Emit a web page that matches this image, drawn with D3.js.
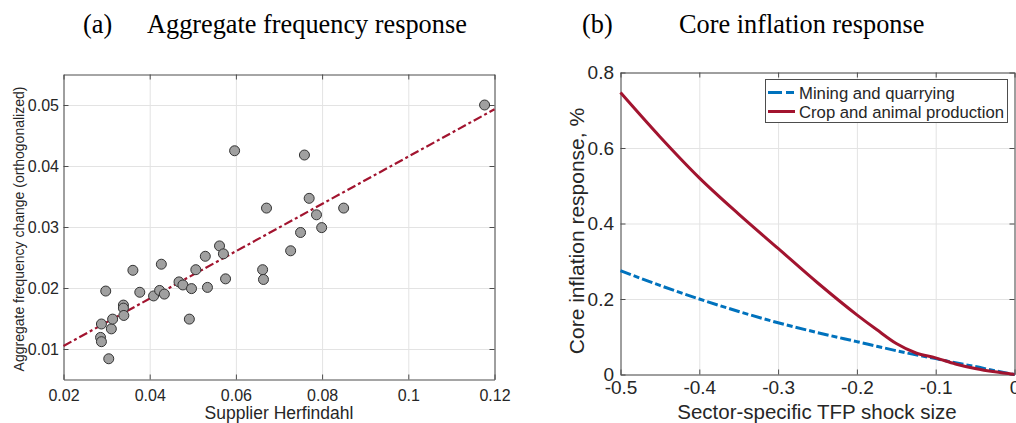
<!DOCTYPE html>
<html>
<head>
<meta charset="utf-8">
<script src="https://cdn.jsdelivr.net/npm/d3@7"></script>
<style>
  body { margin: 0; background: #fff; }
  svg { display: block; }
  .tick text { font-family: "Liberation Sans", Arial, sans-serif; fill: #262626; }
  .grid line { stroke: #e3e3e3; stroke-width: 1; }
  .grid path { display: none; }
  .axis path, .axis line { stroke: #4d4d4d; stroke-width: 1; }
  .title { font-family: "Liberation Serif", "Times New Roman", serif; font-size: 26.3px; fill: #000; }
  .label { font-family: "Liberation Sans", Arial, sans-serif; fill: #262626; }
</style>
</head>
<body>
<div id="chart"></div>
<script>
// panel (a): supplier herfindahl vs aggregate frequency change
const herfX = [0.0298, 0.0361, 0.0377, 0.0427, 0.0409, 0.0423, 0.0434, 0.0468, 0.0477, 0.0497,
               0.0492, 0.0507, 0.0529, 0.0534, 0.0562, 0.0571, 0.0576, 0.0662, 0.0664, 0.0727,
               0.0288, 0.0286, 0.0288, 0.0305, 0.0311, 0.0314, 0.0339, 0.0339, 0.0340, 0.0597,
               0.0671, 0.0759, 0.1177, 0.0770, 0.0787, 0.0850, 0.0799, 0.0750];
const freqY = [0.0195, 0.0229, 0.0193, 0.0239, 0.0187, 0.0196, 0.0190, 0.0210, 0.0205, 0.0199,
               0.0149, 0.0230, 0.0252, 0.0201, 0.0269, 0.0256, 0.0215, 0.0230, 0.0214, 0.0261,
               0.0141, 0.0119, 0.0112, 0.0084, 0.0133, 0.0149, 0.0172, 0.0167, 0.0155, 0.0425,
               0.0331, 0.0418, 0.0500, 0.0347, 0.0320, 0.0331, 0.0299, 0.0291];
const fitX = [0.02, 0.12];
const fitY = [0.0105, 0.0493];
const aXTicks = [0.02, 0.04, 0.06, 0.08, 0.1, 0.12];
const aYTicks = [0.01, 0.02, 0.03, 0.04, 0.05];

// panel (b): core inflation response to sector TFP shocks
const shockX  = [-0.5, -0.45, -0.4, -0.35, -0.3, -0.25, -0.2, -0.175, -0.15, -0.125, -0.1, -0.075, -0.05, -0.025, 0];
const miningY = [0.275, 0.236, 0.200, 0.167, 0.137, 0.111, 0.087, 0.075, 0.063, 0.052, 0.042, 0.031, 0.021, 0.010, 0];
const cropY   = [0.747, 0.630, 0.521, 0.425, 0.334, 0.243, 0.158, 0.119, 0.082, 0.057, 0.044, 0.028, 0.016, 0.007, 0];
const bXTicks = [-0.5, -0.4, -0.3, -0.2, -0.1, 0];
const bYTicks = [0, 0.2, 0.4, 0.6, 0.8];

const red = "#A2142F", blue = "#0072BD";

const svg = d3.select("#chart").append("svg")
    .attr("width", 1016)
    .attr("height", 423);

// plain hyphen minus, like matlab labels
const fmt = d => String(d);

// draws box, grid and inward ticks for a panel
function drawFrame(g, x, y, xt, yt, fs, xpad, ypad) {
    const [x0, x1] = x.range();
    const [y0, y1] = y.range();
    const w = x1 - x0, h = y0 - y1;

    g.append("g").attr("class", "grid")
        .attr("transform", `translate(0,${y0})`)
        .call(d3.axisBottom(x).tickValues(xt).tickSize(-h).tickFormat(""));
    g.append("g").attr("class", "grid")
        .attr("transform", `translate(${x0},0)`)
        .call(d3.axisLeft(y).tickValues(yt).tickSize(-w).tickFormat(""));

    const xb = g.append("g").attr("class", "axis")
        .attr("transform", `translate(0,${y0})`)
        .call(d3.axisBottom(x).tickValues(xt).tickSizeInner(-5).tickSizeOuter(0).tickPadding(xpad).tickFormat(fmt));
    xb.selectAll("text").attr("font-size", fs).attr("dy", "0.75em");
    g.append("g").attr("class", "axis")
        .attr("transform", `translate(0,${y1})`)
        .call(d3.axisTop(x).tickValues(xt).tickSizeInner(-5).tickSizeOuter(0).tickFormat(""));

    const yl = g.append("g").attr("class", "axis")
        .attr("transform", `translate(${x0},0)`)
        .call(d3.axisLeft(y).tickValues(yt).tickSizeInner(-5).tickSizeOuter(0).tickPadding(ypad).tickFormat(fmt));
    yl.selectAll("text").attr("font-size", fs);
    g.append("g").attr("class", "axis")
        .attr("transform", `translate(${x1},0)`)
        .call(d3.axisRight(y).tickValues(yt).tickSizeInner(-5).tickSizeOuter(0).tickFormat(""));
}

/* ---- panel (a) ---- */
const xA = d3.scaleLinear().domain([0.02, 0.12]).range([63.5, 494.5]);
const yA = d3.scaleLinear().domain([0.005, 0.055]).range([379.5, 74.5]);
const gA = svg.append("g");
drawFrame(gA, xA, yA, aXTicks, aYTicks, 16, 9, 4.5);

gA.append("path")
    .datum(fitX.map((d, i) => [d, fitY[i]]))
    .attr("fill", "none")
    .attr("stroke", red)
    .attr("stroke-width", 2.2)
    .attr("stroke-dasharray", "9,3,3,3")
    .attr("d", d3.line().x(d => xA(d[0])).y(d => yA(d[1])));

gA.selectAll("circle")
    .data(herfX.map((d, i) => ({x: d, y: freqY[i]})))
    .enter()
    .append("circle")
    .attr("cx", d => xA(d.x))
    .attr("cy", d => yA(d.y))
    .attr("r", 5)
    .attr("fill", "#a0a0a0")
    .attr("stroke", "#333")
    .attr("stroke-width", 1);

gA.append("text").attr("class", "title").attr("x", 83).attr("y", 33).text("(a)");
gA.append("text").attr("class", "title").attr("x", 147).attr("y", 33).text("Aggregate frequency response");
gA.append("text").attr("class", "label")
    .attr("font-size", 17.5)
    .attr("text-anchor", "middle")
    .attr("x", 279).attr("y", 419)
    .text("Supplier Herfindahl");
gA.append("text").attr("class", "label")
    .attr("font-size", 14)
    .attr("text-anchor", "middle")
    .attr("transform", "translate(24,229) rotate(-90)")
    .text("Aggregate frequency change (orthogonalized)");

/* ---- panel (b) ---- */
const xB = d3.scaleLinear().domain([-0.5, 0]).range([620.5, 1014.5]);
const yB = d3.scaleLinear().domain([0, 0.8]).range([374.5, 72.5]);
const gB = svg.append("g");
drawFrame(gB, xB, yB, bXTicks, bYTicks, 19, 5, 6.5);

const lineB = d3.line().curve(d3.curveMonotoneX).x(d => xB(d[0])).y(d => yB(d[1]));

gB.append("path")
    .datum(shockX.map((d, i) => [d, miningY[i]]))
    .attr("fill", "none")
    .attr("stroke", blue)
    .attr("stroke-width", 3)
    .attr("stroke-dasharray", "11,3,6,3")
    .attr("d", lineB);

gB.append("path")
    .datum(shockX.map((d, i) => [d, cropY[i]]))
    .attr("fill", "none")
    .attr("stroke", red)
    .attr("stroke-width", 3)
    .attr("d", lineB);

// legend
const leg = gB.append("g");
leg.append("rect")
    .attr("x", 765.5).attr("y", 79.5)
    .attr("width", 242).attr("height", 43)
    .attr("fill", "#fff").attr("stroke", "#4d4d4d").attr("stroke-width", 1);
const legItems = [
    {name: "Mining and quarrying", color: blue, dash: "14,4,8,4"},
    {name: "Crop and animal production", color: red, dash: null}
];
legItems.forEach(function(d, i) {
    const ly = 92.5 + i * 19;
    leg.append("line")
        .attr("x1", 768).attr("x2", 795)
        .attr("y1", ly).attr("y2", ly)
        .attr("stroke", d.color).attr("stroke-width", 3)
        .attr("stroke-dasharray", d.dash);
    leg.append("text").attr("class", "label")
        .attr("font-size", 16.7)
        .attr("x", 799).attr("y", ly + 6)
        .text(d.name);
});

gB.append("text").attr("class", "title").attr("x", 582).attr("y", 33).text("(b)");
gB.append("text").attr("class", "title").attr("x", 679).attr("y", 33).text("Core inflation response");
gB.append("text").attr("class", "label")
    .attr("font-size", 20.5)
    .attr("text-anchor", "middle")
    .attr("x", 817).attr("y", 419)
    .text("Sector-specific TFP shock size");
gB.append("text").attr("class", "label")
    .attr("font-size", 21)
    .attr("text-anchor", "middle")
    .attr("transform", "translate(584,231) rotate(-90)")
    .text("Core inflation response, %");
</script>
</body>
</html>
